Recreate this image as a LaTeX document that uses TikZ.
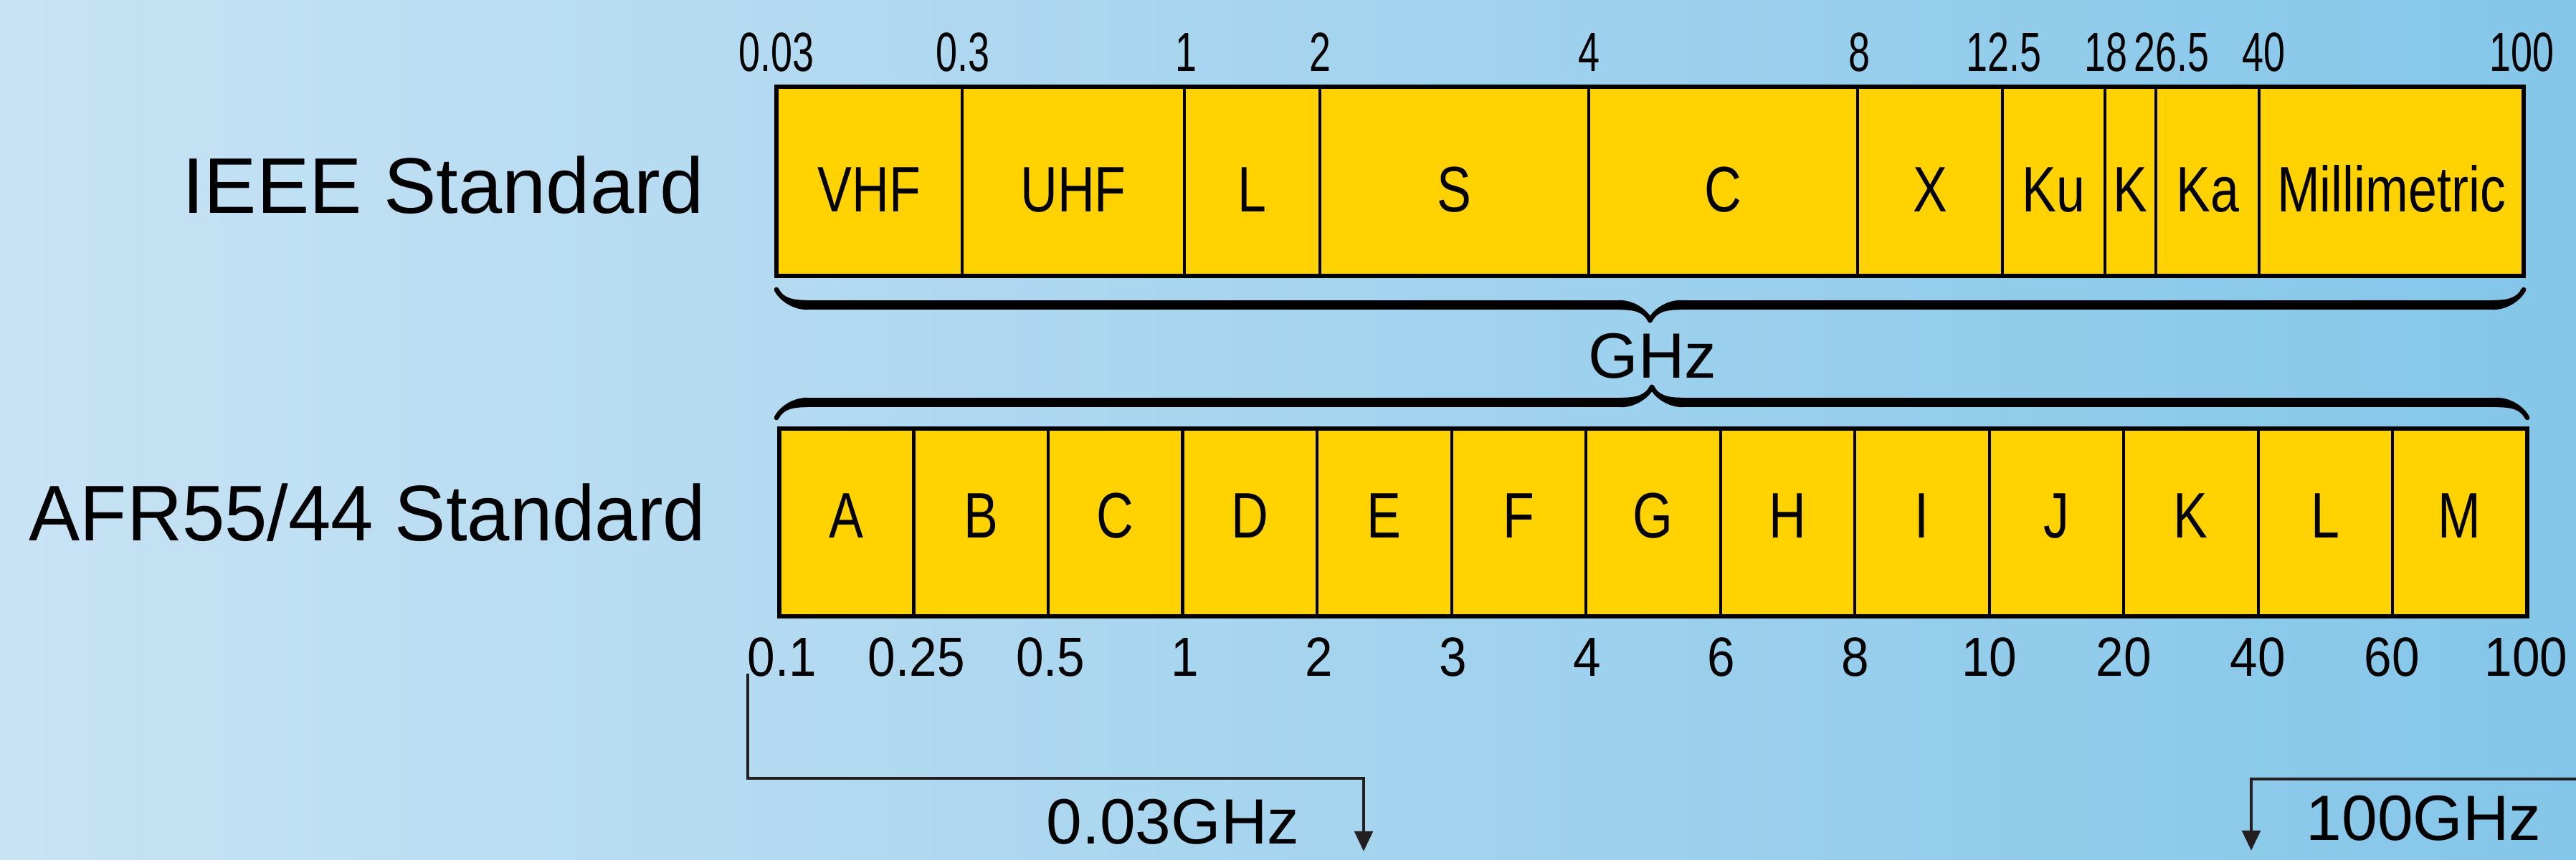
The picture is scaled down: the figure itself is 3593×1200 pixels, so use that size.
\documentclass[tikz,border=0pt]{standalone}
\usepackage{fontspec}
\setmainfont{Liberation Sans}
\newfontfamily\bandfont[FakeStretch=0.8]{Liberation Sans}
\newfontfamily\tickfont[FakeStretch=0.7]{Liberation Sans}
\newfontfamily\lowtickfont[FakeStretch=0.9]{Liberation Sans}
\newfontfamily\stdfont[FakeStretch=0.97]{Liberation Sans}
\usetikzlibrary{arrows.meta,decorations.pathreplacing,calligraphy}

\definecolor{bandyellow}{HTML}{FFD200}
\definecolor{skyleft}{HTML}{C8E3F4}
\definecolor{skyright}{HTML}{84C6E9}
\definecolor{arrowgrey}{HTML}{231F20}

\tikzset{
  cell/.style={draw=black, line width=1.15pt, fill=bandyellow},
  frame/.style={draw=black, line width=1.7pt},
  bandlabel/.style={font=\bandfont\fontsize{25.5}{30}\selectfont, anchor=base, inner sep=0pt},
  toptick/.style={font=\tickfont\fontsize{21.9}{26}\selectfont, anchor=base, inner sep=0pt},
  lowtick/.style={font=\lowtickfont\fontsize{21.9}{26}\selectfont, anchor=base, inner sep=0pt},
  stdlabel/.style={font=\fontsize{31.3}{36}\selectfont, anchor=base east, inner sep=0pt},
  unitlabel/.style={font=\fontsize{25.4}{30}\selectfont, inner sep=0pt},
  bandbrace/.style={decorate, line width=3.8pt, pen colour={black}},
  pointer/.style={draw=arrowgrey, line width=1.4pt, -{Triangle[length=0.28cm,width=0.25cm]}}
}

\begin{document}
\begin{tikzpicture}[x=0.01cm, y=-0.01cm]
  \shade[left color=skyleft, right color=skyright] (0,0) rectangle (3593,1200);
  \useasboundingbox (0,0) rectangle (3593,1200);

  % IEEE bands
  \foreach \l/\r/\txt [count=\i] in {1083/1342/VHF, 1342/1652/UHF, 1652/1841/L,
      1841/2216/S, 2216/2591/C, 2591/2793/X, 2793/2936/Ku, 2936/3007/K,
      3007/3151/Ka, 3151/3520/Millimetric}{
    \draw[cell] (\l,121) rectangle (\r,385);
    \node[bandlabel] (ieee\i) at ({(\l+\r)/2},295) {\txt};
  }
  \draw[frame] (1083,121) rectangle (3520,385);
  \foreach \x/\v [count=\i] in {1083/0.03, 1343/0.3, 1654/1, 1841/2, 2216/4,
      2593/8, 2795/12.5, 2937/18, 3029/26.5, 3157/40, 3517/100}
    \node[toptick] (ieeetick\i) at (\x,100) {\v};

  % AFR55/44 bands
  \foreach \txt [count=\i] in {A,B,C,D,E,F,G,H,I,J,K,L,M}{
    \pgfmathsetmacro\cl{1087+(\i-1)*187.5}
    \pgfmathsetmacro\cr{\cl+187.5}
    \draw[cell] (\cl,598) rectangle (\cr,860);
    \node[bandlabel] (afr\i) at ({(\cl+\cr)/2},750) {\txt};
  }
  \draw[frame] (1087,598) rectangle (3525,860);
  \foreach \v [count=\i] in {0.1,0.25,0.5,1,2,3,4,6,8,10,20,40,60,100}{
    \pgfmathsetmacro\tx{1091+(\i-1)*187.1}
    \node[lowtick] (afrtick\i) at (\tx,943) {\v};
  }

  \node[stdlabel] (ieee) at (983,297) {IEEE Standard};
  \node[stdlabel, font=\stdfont\fontsize{31.3}{36}\selectfont] (afr) at (985,754) {AFR55/44 Standard};

  % braces and unit
  \draw[bandbrace, decoration={calligraphic brace, amplitude=0.43cm, mirror}]
    (1083,404) -- (3520,404);
  \draw[bandbrace, decoration={calligraphic brace, amplitude=0.43cm}]
    (1083,583) -- (3525,583);
  \node[unitlabel, anchor=base] (ghz) at (2305,527) {GHz};

  % range arrows
  \node[unitlabel, anchor=base east] (lowghz) at (1813,1177) {0.03GHz};
  \node[unitlabel, anchor=base west] (highghz) at (3216,1172) {100GHz};
  \coordinate (lowstart) at (1043,940);
  \coordinate (lowbend) at (1902,1086);
  \coordinate (lowend) at (1902,1188);
  \draw[pointer] (lowstart) |- (lowbend) -- (lowend);
  \coordinate (highstart) at (3593,1087);
  \coordinate (highend) at (3140,1187);
  \draw[pointer] (highstart) -| (highend);
\end{tikzpicture}
\end{document}
